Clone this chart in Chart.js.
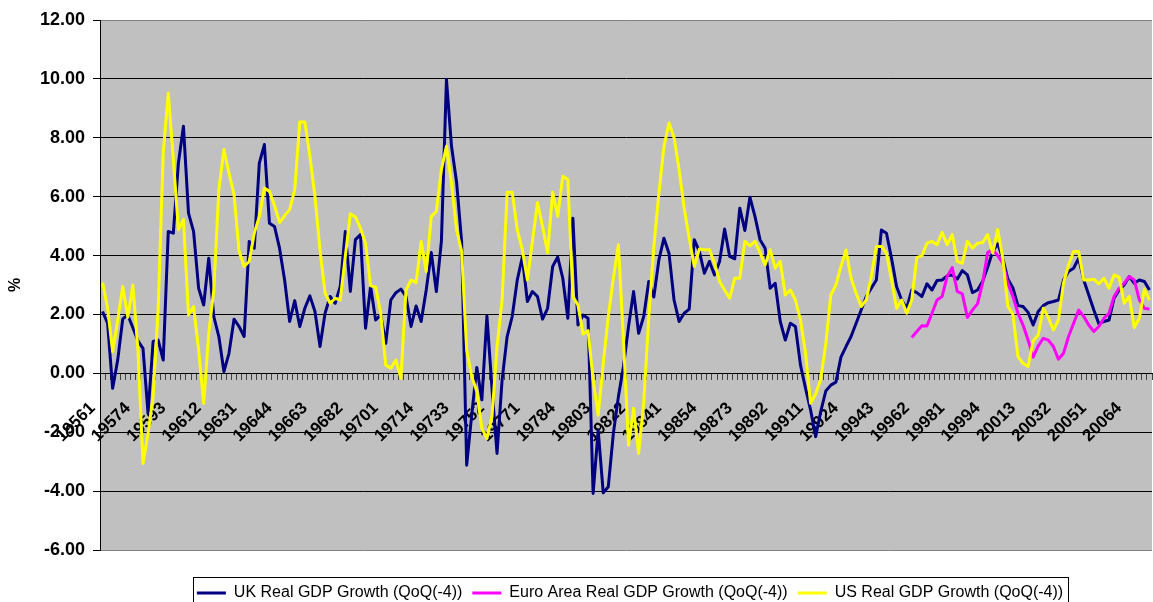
<!DOCTYPE html>
<html>
<head>
<meta charset="utf-8">
<title>Real GDP growth</title>
<script src="https://cdn.jsdelivr.net/npm/chart.js@4.4.1/dist/chart.umd.min.js"></script>
<style>
  html, body { margin: 0; padding: 0; background: #fff; }
</style>
</head>
<body>
<canvas id="gdpChart" width="1153" height="602"></canvas>
<script>
// quarters 1956 Q1 .. 2007 Q4, labelled YYYYQ like the sheet
const firstYear = 1956;
const lastYear = 2007;
const quarters = [];
for (let y = firstYear; y <= lastYear; y++) {
  for (let q = 1; q <= 4; q++) quarters.push(String(y) + q);
}

// % change on the same quarter a year before, one row = two years
const ukGrowth = [
  2.10, 1.70, -0.51, 0.45, 1.85, 1.98, 1.55, 1.10,
  0.85, -1.36, 1.08, 1.13, 0.45, 4.82, 4.76, 7.14,
  8.39, 5.44, 4.82, 2.89, 2.32, 3.91, 1.93, 1.25,
  0.06, 0.68, 1.84, 1.59, 1.25, 4.48, 4.25, 7.14,
  7.77, 5.10, 4.99, 4.25, 3.17, 1.76, 2.47, 1.59,
  2.21, 2.63, 2.10, 0.91, 2.04, 2.61, 2.38, 2.95,
  4.82, 2.78, 4.54, 4.71, 1.53, 2.95, 1.81, 1.98,
  1.02, 2.49, 2.74, 2.86, 2.61, 1.59, 2.29, 1.76,
  2.83, 4.10, 2.78, 4.48, 9.98, 7.71, 6.50, 4.48,
  -3.12, -1.40, 0.20, -0.90, 1.95, -0.50, -2.72, -0.23,
  1.25, 1.93, 3.17, 3.95, 2.44, 2.78, 2.61, 1.84,
  2.21, 3.63, 3.95, 3.23, 1.87, 5.27, 1.64, 1.98,
  1.87, -4.08, -1.93, -4.06, -3.85, -2.04, -0.79, 0.23,
  1.59, 2.78, 1.36, 1.93, 3.12, 2.59, 3.85, 4.59,
  4.08, 2.49, 1.76, 2.04, 2.18, 4.54, 4.14, 3.40,
  3.80, 3.34, 3.80, 4.90, 3.97, 3.89, 5.61, 4.85,
  5.98, 5.33, 4.54, 4.25, 2.89, 3.06, 1.76, 1.13,
  1.70, 1.59, 0.28, -0.51, -1.25, -2.15, -1.30, -0.60,
  -0.40, -0.30, 0.55, 0.91, 1.25, 1.70, 2.15, 2.61,
  2.89, 3.17, 4.87, 4.76, 3.91, 2.95, 2.49, 2.21,
  2.83, 2.74, 2.61, 3.04, 2.83, 3.15, 3.17, 3.31,
  3.34, 3.20, 3.49, 3.34, 2.74, 2.83, 3.12, 3.60,
  4.14, 4.40, 3.90, 3.20, 2.90, 2.30, 2.27, 2.07,
  1.64, 2.10, 2.30, 2.40, 2.44, 2.49, 3.17, 3.46,
  3.57, 3.91, 3.17, 2.66, 2.15, 1.68, 1.76, 1.81,
  2.55, 2.83, 3.00, 3.29, 3.06, 3.17, 3.12, 2.83
];

// euro area series only starts in 1996 Q1
const euroFrom = '19961';
const euroValues = [
  1.22, 1.42, 1.62, 1.61, 2.04, 2.49, 2.61, 3.29,
  3.59, 2.78, 2.70, 1.90, 2.15, 2.36, 3.06, 4.10,
  4.20, 4.00, 3.74, 3.06, 2.61, 2.04, 1.64, 1.13,
  0.55, 0.93, 1.19, 1.13, 0.91, 0.48, 0.68, 1.25,
  1.70, 2.15, 1.93, 1.64, 1.42, 1.59, 1.87, 2.04,
  2.61, 2.89, 3.06, 3.29, 3.17, 2.49, 2.21, 2.18
];
const euroGrowth = new Array(quarters.indexOf(euroFrom)).fill(null).concat(euroValues);

const usGrowth = [
  3.08, 2.21, 0.74, 1.80, 2.95, 1.90, 3.00, 0.80,
  -3.06, -2.04, -0.79, 2.20, 7.48, 9.52, 7.26, 4.88,
  5.22, 1.98, 2.27, 0.80, -1.02, 1.36, 2.83, 6.24,
  7.60, 6.80, 6.07, 4.14, 3.63, 3.80, 4.76, 5.33,
  6.29, 6.18, 5.70, 5.12, 5.35, 5.56, 6.24, 8.54,
  8.54, 7.37, 6.01, 4.19, 2.72, 2.38, 2.55, 2.49,
  3.97, 5.42, 5.31, 4.93, 4.42, 2.97, 2.93, 2.04,
  0.28, 0.17, 0.45, -0.17, 2.83, 3.17, 3.08, 4.48,
  3.46, 5.33, 5.50, 6.92, 7.71, 6.46, 4.88, 4.14,
  0.79, -0.11, -0.62, -1.87, -2.21, -1.47, 0.91, 2.49,
  6.15, 6.15, 4.88, 4.20, 3.17, 4.48, 5.80, 4.99,
  4.10, 6.15, 5.33, 6.69, 6.58, 2.61, 2.32, 1.34,
  1.45, -0.23, -1.42, 0.34, 1.93, 3.23, 4.37, 1.13,
  -2.44, -1.19, -2.72, -1.00, 1.90, 4.30, 6.10, 7.70,
  8.50, 8.00, 6.92, 5.61, 4.59, 3.63, 4.22, 4.20,
  4.20, 3.74, 3.12, 2.83, 2.55, 3.23, 3.23, 4.48,
  4.33, 4.48, 4.10, 3.68, 4.20, 3.57, 3.80, 2.66,
  2.83, 2.49, 1.81, 0.68, -1.02, -0.70, -0.20, 1.00,
  2.66, 3.00, 3.63, 4.19, 3.23, 2.72, 2.27, 2.49,
  3.29, 4.31, 4.31, 4.08, 3.17, 2.21, 2.49, 2.04,
  2.49, 3.94, 3.99, 4.42, 4.48, 4.37, 4.79, 4.37,
  4.71, 3.80, 3.74, 4.48, 4.25, 4.42, 4.44, 4.71,
  4.08, 4.88, 3.90, 2.27, 2.00, 0.57, 0.34, 0.23,
  1.10, 1.30, 2.21, 1.90, 1.47, 1.81, 3.06, 3.68,
  4.14, 4.14, 3.17, 3.17, 3.20, 3.04, 3.23, 2.89,
  3.34, 3.27, 2.38, 2.61, 1.56, 1.87, 2.86, 2.49
];

const yMin = -6;
const yMax = 12;
const yStep = 2;
const labelEvery = 7;   // one axis label every 7 quarters

const FONT = "'Liberation Sans', Arial, sans-serif";

// grey plot area, legend moved under the plot with a frame round it
const sheetLook = {
  id: 'sheetLook',
  afterLayout(chart) {
    const lg = chart.legend;
    lg.left += 54; lg.right += 54;
    lg.top += 25; lg.bottom += 25;
  },
  beforeDraw(chart) {
    const {ctx, chartArea: a} = chart;
    ctx.save();
    ctx.fillStyle = '#c0c0c0';
    ctx.fillRect(a.left, a.top, a.right - a.left, a.bottom - a.top);
    ctx.restore();
  },
  afterDraw(chart) {
    const {ctx} = chart;
    const lg = chart.legend;
    const pad = lg.options.labels.padding;
    const w = lg.lineWidths[0];
    const x0 = (lg.left + pad + lg.right - w) / 2;
    ctx.save();
    ctx.strokeStyle = '#000';
    ctx.lineWidth = 1;
    ctx.strokeRect(Math.round(x0 - 4) + 0.5, Math.round(lg.top + 2) + 0.5, Math.round(w - pad + 9), 40);
    ctx.restore();
  }
};

const ctx = document.getElementById('gdpChart').getContext('2d');
new Chart(ctx, {
  type: 'line',
  data: {
    labels: quarters,
    datasets: [{
      label: 'UK Real GDP Growth (QoQ(-4))',
      data: ukGrowth,
      borderColor: '#000080',
      backgroundColor: '#000080',
      order: 3
    }, {
      label: 'Euro Area Real GDP Growth (QoQ(-4))',
      data: euroGrowth,
      borderColor: '#ff00ff',
      backgroundColor: '#ff00ff',
      order: 2
    }, {
      label: 'US Real GDP Growth (QoQ(-4))',
      data: usGrowth,
      borderColor: '#ffff00',
      backgroundColor: '#ffff00',
      order: 1
    }]
  },
  options: {
    responsive: false,
    animation: false,
    devicePixelRatio: 1,
    layout: { padding: { top: 20, right: 1, bottom: 16, left: 0 } },
    elements: {
      line: { borderWidth: 3, tension: 0, borderJoinStyle: 'round', fill: false },
      point: { radius: 0, hoverRadius: 0 }
    },
    scales: {
      x: {
        type: 'category',
        position: { y: 0 },
        offset: true,
        afterFit: s => { s.paddingLeft = 0; s.paddingRight = 0; },
        grid: { drawOnChartArea: false, offset: true, tickLength: 6, color: '#404040' },
        border: { color: '#000', width: 1 },
        ticks: {
          autoSkip: false,
          minRotation: 45,
          maxRotation: 45,
          padding: 9,
          color: '#000',
          font: { family: FONT, size: 17, weight: 'bold' },
          callback: function (val, idx) {
            return idx % labelEvery === 0 ? this.getLabelForValue(val) + '   ' : '';
          }
        }
      },
      y: {
        min: yMin,
        max: yMax,
        afterFit: s => { s.width = 100; },
        grid: {
          color: c => (c.tick && (c.tick.value === yMax || c.tick.value === yMin)) ? '#808080' : '#000',
          tickColor: '#000',
          tickLength: 7,
          lineWidth: 1
        },
        border: { color: '#000', width: 1 },
        ticks: {
          stepSize: yStep,
          padding: 8,
          color: '#000',
          font: { family: FONT, size: 18, weight: 'bold' },
          callback: v => v.toFixed(2)
        },
        title: {
          display: true,
          text: '%',
          color: '#000',
          font: { family: FONT, size: 16, weight: 'bold' },
          padding: { top: 6, bottom: 0 }
        }
      }
    },
    plugins: {
      tooltip: { enabled: false },
      legend: {
        position: 'bottom',
        labels: {
          boxWidth: 29,
          boxHeight: 3,
          padding: 10,
          color: '#000',
          font: { family: FONT, size: 16 },
          sort: (a, b) => a.datasetIndex - b.datasetIndex,
          generateLabels(chart) {
            const items = Chart.defaults.plugins.legend.labels.generateLabels(chart);
            items.forEach(it => { it.lineWidth = 0; });
            return items;
          }
        }
      }
    }
  },
  plugins: [sheetLook]
});
</script>
</body>
</html>
